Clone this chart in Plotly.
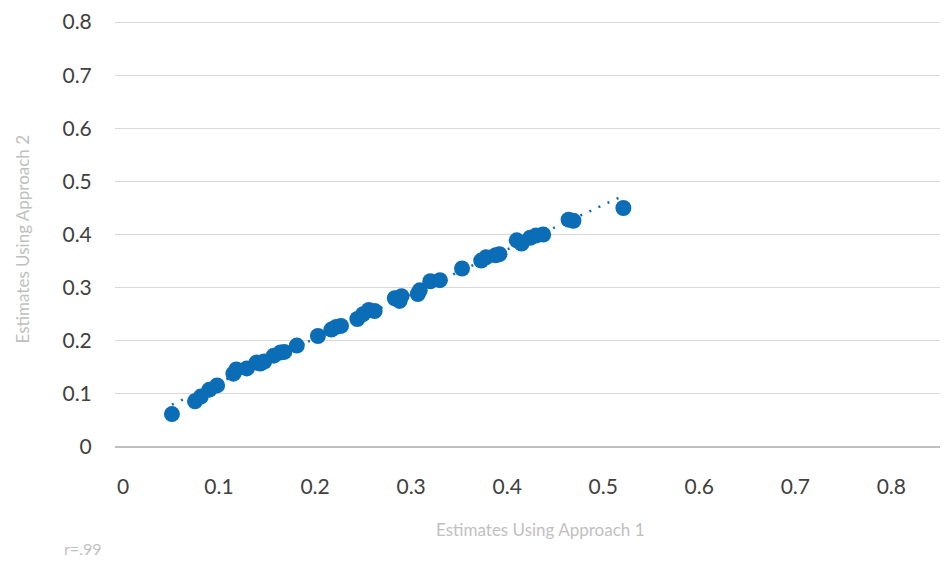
import numpy as np
import plotly.graph_objects as go

# Data
approach1 = [0.051, 0.075, 0.081, 0.090, 0.098, 0.115, 0.118, 0.129, 0.139, 0.143,
             0.147, 0.157, 0.164, 0.168, 0.181, 0.203, 0.217, 0.222, 0.227, 0.244,
             0.250, 0.256, 0.262, 0.283, 0.290, 0.288, 0.307, 0.309, 0.320, 0.330,
             0.353, 0.373, 0.378, 0.388, 0.392, 0.410, 0.415, 0.424, 0.430, 0.4375,
             0.464, 0.469, 0.521]
approach2 = [0.062, 0.086, 0.095, 0.108, 0.116, 0.138, 0.146, 0.148, 0.159, 0.157,
             0.161, 0.172, 0.178, 0.179, 0.191, 0.209, 0.221, 0.226, 0.228, 0.241,
             0.250, 0.258, 0.256, 0.280, 0.284, 0.275, 0.288, 0.295, 0.312, 0.314,
             0.336, 0.351, 0.357, 0.361, 0.363, 0.389, 0.383, 0.394, 0.398, 0.400,
             0.428, 0.426, 0.450]
tick_vals = [0, 0.1, 0.2, 0.3, 0.4, 0.5, 0.6, 0.7, 0.8]
tick_text = ["0", "0.1", "0.2", "0.3", "0.4", "0.5", "0.6", "0.7", "0.8"]
x_title = "Estimates Using Approach 1"
y_title = "Estimates Using Approach 2"
note = "r=.99"

BLUE = "#0b6db6"
FONT = "Lato"

# Linear trendline (least squares)
slope, intercept = np.polyfit(approach1, approach2, 1)
tx = np.array([min(approach1), max(approach1)])
ty = slope * tx + intercept

fig = go.Figure()
fig.add_trace(go.Scatter(x=approach1, y=approach2, mode="markers",
                         marker=dict(color=BLUE, size=16, line=dict(width=0)),
                         showlegend=False, hoverinfo="x+y"))
fig.add_trace(go.Scatter(x=tx, y=ty, mode="lines",
                         line=dict(color=BLUE, width=2.5, dash="2px,8px"),
                         showlegend=False, hoverinfo="skip"))

# page has an 8px body margin: figure is placed at (8, 8)
L, T, PW, PH = 107, 10, 833, 429

fig.update_layout(
    width=940, height=553,
    margin=dict(l=L, r=940 - L - PW, t=T, b=553 - T - PH),
    paper_bgcolor="white", plot_bgcolor="white",
    font=dict(family=FONT, color="#404040", size=21),
    xaxis=dict(range=[-0.0083, 0.859], tickvals=tick_vals, ticktext=tick_text,
               showgrid=False, zeroline=False, showline=False,
               ticks="outside", ticklen=21, tickcolor="rgba(0,0,0,0)",
               ticklabeloverflow="allow",
               tickfont=dict(family=FONT, size=21, color="#404040")),
    yaxis=dict(range=[0, 0.802], tickvals=tick_vals, ticktext=tick_text,
               showgrid=True, gridcolor="#d9d9d9", gridwidth=1,
               zeroline=True, zerolinecolor="#bfbfbf", zerolinewidth=2,
               showline=False,
               ticks="outside", ticklen=18, tickcolor="rgba(0,0,0,0)",
               ticklabeloverflow="allow",
               tickfont=dict(family=FONT, size=21, color="#404040")),
    annotations=[
        dict(text=x_title, xref="paper", yref="paper", x=(540 - 115) / PW, y=(447 - 530) / PH,
             showarrow=False, xanchor="center", yanchor="middle",
             font=dict(family=FONT, size=17, color="#bfbfbf")),
        dict(text=y_title, xref="paper", yref="paper", x=(22 - 115) / PW, y=(447 - 238) / PH,
             showarrow=False, xanchor="center", yanchor="middle", textangle=-90,
             font=dict(family=FONT, size=17, color="#bfbfbf")),
        dict(text=note, xref="paper", yref="paper", x=(62 - 115) / PW, y=(447 - 549) / PH,
             showarrow=False, xanchor="left", yanchor="middle",
             font=dict(family=FONT, size=16, color="#bfbfbf")),
    ],
)

fig.write_html("out.html")
